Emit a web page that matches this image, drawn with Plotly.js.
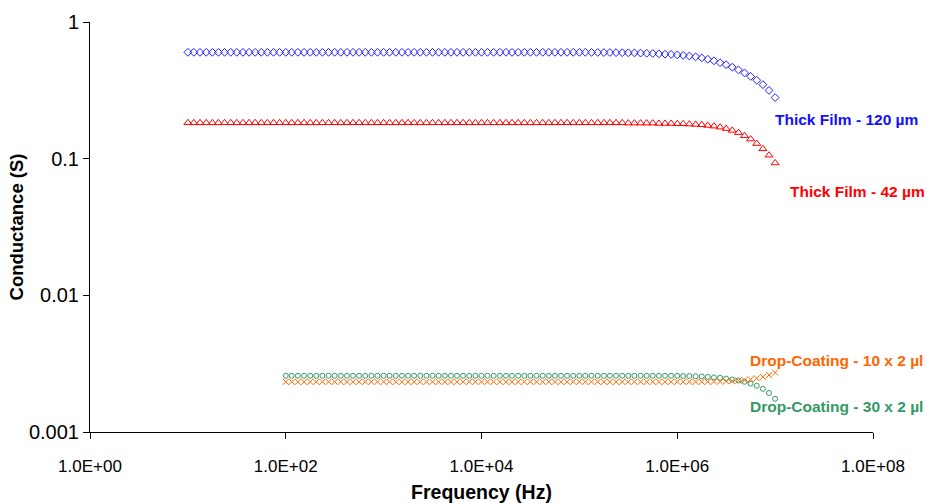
<!DOCTYPE html>
<html>
<head>
<meta charset="utf-8">
<script src="https://cdn.plot.ly/plotly-3.0.1.min.js"></script>
<style>html,body{margin:0;padding:0;background:#fff;}#chart{width:927px;height:503px;}</style>
</head>
<body>
<div id="chart"></div>
<script>
// Frequency sweep (Hz) for the thick film samples
const freqThick = [
  10, 11.5, 13.3, 15.4, 17.8, 20.5, 23.7, 27.4, 31.6, 36.5, 42.2, 48.7, 56.2, 64.9, 75.0, 86.6,
  100, 115, 133, 154, 178, 205, 237, 274, 316, 365, 422, 487, 562, 649, 750, 866,
  1000, 1150, 1330, 1540, 1780, 2050, 2370, 2740, 3160, 3650, 4220, 4870, 5620, 6490, 7500, 8660,
  10000, 11500, 13300, 15400, 17800, 20500, 23700, 27400, 31600, 36500, 42200, 48700, 56200, 64900, 75000, 86600,
  1.00e5, 1.15e5, 1.33e5, 1.54e5, 1.78e5, 2.05e5, 2.37e5, 2.74e5, 3.16e5, 3.65e5, 4.22e5, 4.87e5, 5.62e5, 6.49e5, 7.50e5, 8.66e5,
  1.00e6, 1.15e6, 1.33e6, 1.54e6, 1.78e6, 2.05e6, 2.37e6, 2.74e6, 3.16e6, 3.65e6, 4.22e6, 4.87e6, 5.62e6, 6.49e6, 7.50e6, 8.66e6,
  1.00e7
];
// Frequency sweep (Hz) for the drop-coated samples
const freqDrop = [
  100, 115, 133, 154, 178, 205, 237, 274, 316, 365, 422, 487, 562, 649, 750, 866,
  1000, 1150, 1330, 1540, 1780, 2050, 2370, 2740, 3160, 3650, 4220, 4870, 5620, 6490, 7500, 8660,
  10000, 11500, 13300, 15400, 17800, 20500, 23700, 27400, 31600, 36500, 42200, 48700, 56200, 64900, 75000, 86600,
  1.00e5, 1.15e5, 1.33e5, 1.54e5, 1.78e5, 2.05e5, 2.37e5, 2.74e5, 3.16e5, 3.65e5, 4.22e5, 4.87e5, 5.62e5, 6.49e5, 7.50e5, 8.66e5,
  1.00e6, 1.15e6, 1.33e6, 1.54e6, 1.78e6, 2.05e6, 2.37e6, 2.74e6, 3.16e6, 3.65e6, 4.22e6, 4.87e6, 5.62e6, 6.49e6, 7.50e6, 8.66e6,
  1.00e7
];
// Conductance (S)
const thick120 = [
  0.600, 0.600, 0.600, 0.600, 0.600, 0.600, 0.600, 0.600, 0.600, 0.600, 0.600, 0.600, 0.600, 0.600, 0.600, 0.600,
  0.600, 0.600, 0.600, 0.600, 0.600, 0.600, 0.600, 0.600, 0.600, 0.600, 0.600, 0.600, 0.600, 0.600, 0.600, 0.600,
  0.600, 0.600, 0.600, 0.600, 0.600, 0.600, 0.600, 0.600, 0.600, 0.600, 0.600, 0.600, 0.600, 0.600, 0.600, 0.600,
  0.600, 0.600, 0.600, 0.600, 0.600, 0.600, 0.600, 0.600, 0.600, 0.600, 0.600, 0.600, 0.600, 0.600, 0.600, 0.600,
  0.600, 0.600, 0.599, 0.599, 0.598, 0.598, 0.597, 0.596, 0.595, 0.594, 0.592, 0.590, 0.588, 0.585, 0.582, 0.579,
  0.575, 0.570, 0.564, 0.556, 0.546, 0.534, 0.520, 0.504, 0.487, 0.467, 0.446, 0.424, 0.400, 0.375, 0.348, 0.316,
  0.280
];
const thick42 = [
  0.183, 0.183, 0.183, 0.183, 0.183, 0.183, 0.183, 0.183, 0.183, 0.183, 0.183, 0.183, 0.183, 0.183, 0.183, 0.183,
  0.183, 0.183, 0.183, 0.183, 0.183, 0.183, 0.183, 0.183, 0.183, 0.183, 0.183, 0.183, 0.183, 0.183, 0.183, 0.183,
  0.183, 0.183, 0.183, 0.183, 0.183, 0.183, 0.183, 0.183, 0.183, 0.183, 0.183, 0.183, 0.183, 0.183, 0.183, 0.183,
  0.183, 0.183, 0.183, 0.183, 0.183, 0.183, 0.183, 0.183, 0.183, 0.183, 0.183, 0.183, 0.183, 0.183, 0.183, 0.183,
  0.183, 0.183, 0.183, 0.183, 0.183, 0.183, 0.183, 0.183, 0.182, 0.182, 0.182, 0.182, 0.182, 0.181, 0.181, 0.181,
  0.180, 0.180, 0.179, 0.178, 0.177, 0.175, 0.173, 0.170, 0.166, 0.161, 0.155, 0.147, 0.139, 0.129, 0.118, 0.106,
  0.093
];
const drop10 = [
  0.00233, 0.00233, 0.00233, 0.00233, 0.00233, 0.00233, 0.00233, 0.00233, 0.00233, 0.00233, 0.00233, 0.00233, 0.00233, 0.00233, 0.00233, 0.00233,
  0.00233, 0.00233, 0.00233, 0.00233, 0.00233, 0.00233, 0.00233, 0.00233, 0.00233, 0.00233, 0.00233, 0.00233, 0.00233, 0.00233, 0.00233, 0.00233,
  0.00233, 0.00233, 0.00233, 0.00233, 0.00233, 0.00233, 0.00233, 0.00233, 0.00233, 0.00233, 0.00233, 0.00233, 0.00233, 0.00233, 0.00233, 0.00233,
  0.00233, 0.00233, 0.00233, 0.00233, 0.00233, 0.00233, 0.00233, 0.00233, 0.00233, 0.00233, 0.00233, 0.00233, 0.00233, 0.00233, 0.00233, 0.00233,
  0.00233, 0.00233, 0.00233, 0.00233, 0.00233, 0.00233, 0.00234, 0.00234, 0.00235, 0.00236, 0.00238, 0.00240, 0.00243, 0.00247, 0.00253, 0.00261,
  0.00272
];
const drop30 = [
  0.00258, 0.00258, 0.00258, 0.00258, 0.00258, 0.00258, 0.00258, 0.00258, 0.00258, 0.00258, 0.00258, 0.00258, 0.00258, 0.00258, 0.00258, 0.00258,
  0.00258, 0.00258, 0.00258, 0.00258, 0.00258, 0.00258, 0.00258, 0.00258, 0.00258, 0.00258, 0.00258, 0.00258, 0.00258, 0.00258, 0.00258, 0.00258,
  0.00258, 0.00258, 0.00258, 0.00258, 0.00258, 0.00258, 0.00258, 0.00258, 0.00258, 0.00258, 0.00258, 0.00258, 0.00258, 0.00258, 0.00258, 0.00258,
  0.00258, 0.00258, 0.00258, 0.00258, 0.00258, 0.00258, 0.00258, 0.00258, 0.00258, 0.00258, 0.00258, 0.00258, 0.00258, 0.00258, 0.00258, 0.00258,
  0.00258, 0.00257, 0.00257, 0.00256, 0.00255, 0.00253, 0.00251, 0.00249, 0.00246, 0.00242, 0.00238, 0.00233, 0.00226, 0.00218, 0.00207, 0.00193,
  0.00175
];
const seriesNames = ['Thick Film - 120 µm', 'Thick Film - 42 µm', 'Drop-Coating - 30 x 2 µl', 'Drop-Coating - 10 x 2 µl'];
const xTickVals = [1, 1e2, 1e4, 1e6, 1e8];
const xTickText = ['1.0E+00', '1.0E+02', '1.0E+04', '1.0E+06', '1.0E+08'];
const yTickVals = [0.001, 0.01, 0.1, 1];
const yTickText = ['0.001', '0.01', '0.1', '1'];

const FONT = 'Liberation Sans, Arial, sans-serif';

const traces = [
  {x: freqThick, y: thick120, name: seriesNames[0], mode: 'markers', type: 'scatter',
   marker: {symbol: 'diamond-open', size: 6, color: '#1f1fff', line: {width: 1, color: '#1f1fff'}}},
  {x: freqThick, y: thick42, name: seriesNames[1], mode: 'markers', type: 'scatter',
   marker: {symbol: 'triangle-up-open', size: 7, color: '#ff0000', line: {width: 1, color: '#ff0000'}}},
  {x: freqDrop, y: drop30, name: seriesNames[2], mode: 'markers', type: 'scatter',
   marker: {symbol: 'circle-open', size: 5, color: '#339966', line: {width: 1, color: '#339966'}}},
  {x: freqDrop, y: drop10, name: seriesNames[3], mode: 'markers', type: 'scatter',
   marker: {symbol: 'x-thin-open', size: 6, color: '#ff6600', line: {width: 1, color: '#ff6600'}}}
];

const layout = {
  width: 927, height: 503,
  margin: {l: 90, r: 54, t: 22, b: 71},
  paper_bgcolor: '#ffffff', plot_bgcolor: '#ffffff',
  showlegend: false,
  font: {family: FONT, color: '#000000', size: 16},
  xaxis: {
    type: 'log', range: [0, 8],
    tickvals: xTickVals, ticktext: xTickText,
    ticks: 'outside', ticklen: 6, tickwidth: 1, tickcolor: '#000',
    ticklabelstandoff: 13,
    showline: true, linecolor: '#000', linewidth: 1,
    showgrid: false, zeroline: false,
    tickfont: {family: FONT, size: 17, color: '#000'},
    title: {text: 'Frequency (Hz)', font: {family: FONT, size: 19.5, weight: 'bold', color: '#000'}, standoff: 10}
  },
  yaxis: {
    type: 'log', range: [-3, 0],
    tickvals: yTickVals, ticktext: yTickText,
    ticks: 'outside', ticklen: 6, tickwidth: 1, tickcolor: '#000',
    showline: true, linecolor: '#000', linewidth: 1,
    showgrid: false, zeroline: false,
    tickfont: {family: FONT, size: 20, color: '#000'},
    title: {text: 'Conductance (S)', font: {family: FONT, size: 18.5, weight: 'bold', color: '#000'}, standoff: 0}
  },
  annotations: [
    {text: seriesNames[0], xref: 'paper', yref: 'paper', x: 0.8723, y: 0.7634, xanchor: 'left', yanchor: 'middle', showarrow: false,
     font: {family: FONT, size: 15.5, weight: 'bold', color: '#1010ff'}},
    {text: seriesNames[1], xref: 'paper', yref: 'paper', x: 0.8914, y: 0.5854, xanchor: 'left', yanchor: 'middle', showarrow: false,
     font: {family: FONT, size: 15.5, weight: 'bold', color: '#ff0000'}},
    {text: seriesNames[3], xref: 'paper', yref: 'paper', x: 0.8404, y: 0.1732, xanchor: 'left', yanchor: 'middle', showarrow: false,
     font: {family: FONT, size: 15.5, weight: 'bold', color: '#ff6600'}},
    {text: seriesNames[2], xref: 'paper', yref: 'paper', x: 0.8404, y: 0.061, xanchor: 'left', yanchor: 'middle', showarrow: false,
     font: {family: FONT, size: 15.5, weight: 'bold', color: '#339966'}}
  ]
};

Plotly.newPlot('chart', traces, layout, {staticPlot: true, displayModeBar: false});
</script>
</body>
</html>
